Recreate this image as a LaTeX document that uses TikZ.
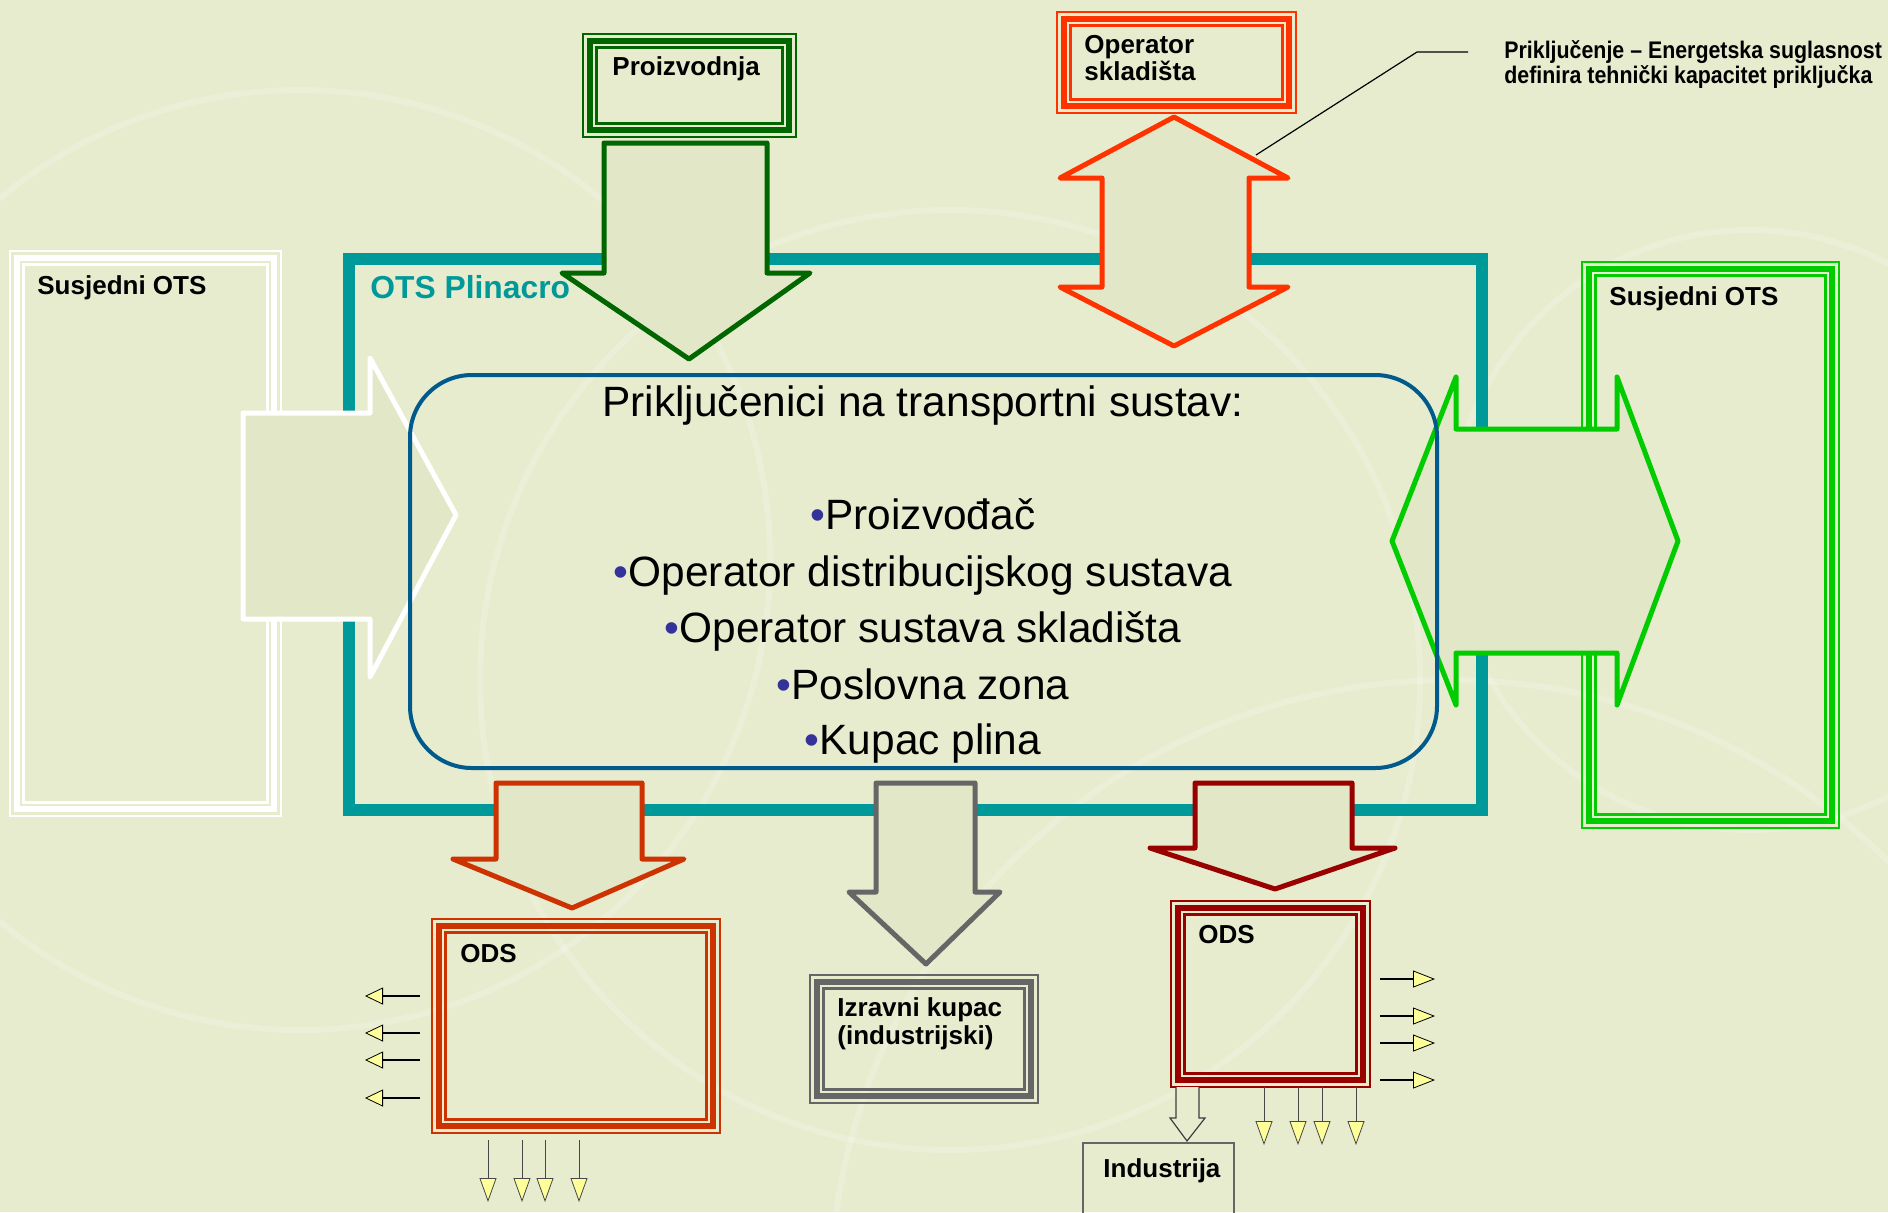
\documentclass[tikz,border=0pt]{standalone}
\usepackage{fontspec}
\setmainfont{Liberation Sans}
\newfontfamily\narrowf[FakeStretch=0.89]{Liberation Sans}
\usetikzlibrary{arrows.meta}
\definecolor{bg}{RGB}{231,236,206}
\definecolor{afill}{RGB}{225,231,199}
\definecolor{teal2}{RGB}{0,153,153}
\definecolor{bluebox}{RGB}{0,90,140}
\definecolor{dgreen}{RGB}{0,102,0}
\definecolor{lgreen}{RGB}{0,204,0}
\definecolor{redor}{RGB}{255,51,0}
\definecolor{orred}{RGB}{204,51,0}
\definecolor{dred}{RGB}{153,0,0}
\definecolor{gry}{RGB}{102,102,102}
\definecolor{yel}{RGB}{255,255,153}
\definecolor{bul}{RGB}{51,51,153}
\newcommand\tribox[6]{%
  \pgfmathsetmacro\bw{(#5-#3)*0.5}%
  \pgfmathsetmacro\bh{(#6-#4)*0.5}%
  \node[draw=#2, line width=1.25pt, inner sep=0pt, outer sep=0pt,
        minimum width=\bw pt, minimum height=\bh pt, anchor=north west] (#1) at (#3,#4) {};
  \draw[#2, line width=3.25pt] ([shift={(3.5pt,-3.5pt)}]#1.north west) rectangle ([shift={(-3.5pt,3.5pt)}]#1.south east);
  \draw[#2, line width=1.25pt] ([shift={(6.7pt,-6.7pt)}]#1.north west) rectangle ([shift={(-6.7pt,6.7pt)}]#1.south east);
}
\tikzset{
  lbl/.style={font=\fontsize{13}{15.6}\selectfont\bfseries, anchor=base west, inner sep=0pt},
  maintxt/.style={font=\fontsize{21.2}{25}\selectfont, anchor=base, inner sep=0pt},
  blockarrow/.style={line width=2.5pt, fill=afill, line join=round},
  smallh/.style={line width=1.1pt, -{Triangle[length=9pt,width=8.5pt,fill=yel,line width=0.4pt]}},
  smallv/.style={line width=0.5pt, draw=gry!70!black, -{Triangle[length=12pt,width=8.5pt,fill=yel,line width=0.4pt]}},
  deco/.style={draw=white, opacity=0.2, line width=3pt}
}
\begin{document}
\begin{tikzpicture}[x=0.5pt, y=-0.5pt]
\useasboundingbox[fill=bg] (0,0) rectangle (1888,1212);
% decorative background arcs
\draw[deco] (300,560) circle[radius=470];
\draw[deco] (950,680) circle[radius=470];
\draw[deco] (1750,530) circle[radius=300];
\draw[deco] (1450,1300) circle[radius=620];
% neighbouring systems
\tribox{susL}{white}{10}{251}{281}{816}
\tribox{susR}{lgreen}{1582}{262}{1839}{828}
% OTS Plinacro frame
\node[draw=teal2, line width=6pt, inner sep=0pt, outer sep=0pt, minimum width=566.5pt, minimum height=275.5pt, anchor=north west] (ots) at (349,259) {};
% other boxes
\tribox{proiz}{dgreen}{583}{34}{796}{137}
\tribox{opsk}{redor}{1057}{12}{1296}{113}
\tribox{odsL}{orred}{432}{919}{720}{1133}
\tribox{izr}{gry}{810}{975}{1038}{1103}
\tribox{odsR}{dred}{1171}{901}{1370}{1087}
\node[draw=gry, line width=1.2pt, inner sep=0pt, outer sep=0pt, minimum width=75.5pt, minimum height=45pt, anchor=north west] (ind) at (1083,1143) {};
% block arrows
\draw[blockarrow, draw=dgreen] (604,143) -- (767,143) -- (767,273) -- (810,273) -- (689,359) -- (562,273) -- (604,273) -- cycle;
\draw[blockarrow, draw=redor] (1102,178) -- (1060,178) -- (1174,117) -- (1288,178) -- (1249,178) -- (1249,287) -- (1288,287) -- (1174,346) -- (1060,287) -- (1102,287) -- cycle;
\draw[blockarrow, draw=white] (243,413) -- (370,413) -- (370,358) -- (456,515) -- (370,677) -- (370,619) -- (243,619) -- cycle;
\draw[blockarrow, draw=lgreen] (1392,541) -- (1456,377) -- (1456,429) -- (1617,429) -- (1617,377) -- (1678,541) -- (1617,705) -- (1617,653) -- (1456,653) -- (1456,705) -- cycle;
\draw[blockarrow, draw=orred] (496,783) -- (642,783) -- (642,859) -- (684,859) -- (572,908) -- (453,859) -- (496,859) -- cycle;
\draw[blockarrow, draw=gry] (876,783) -- (975,783) -- (975,892) -- (1000,892) -- (926,964) -- (849,892) -- (876,892) -- cycle;
\draw[blockarrow, draw=dred] (1195,783) -- (1352,783) -- (1352,848) -- (1395,848) -- (1275,889) -- (1150,848) -- (1195,848) -- cycle;
% hollow arrow to Industrija
\draw[draw=gry!60!black, line width=0.6pt, fill=bg] (1176,1087) -- (1176,1118) -- (1170,1118) -- (1187,1141) -- (1205,1118) -- (1199,1118) -- (1199,1087);
% central rounded box
\node[draw=bluebox, line width=2pt, rounded corners=31pt, inner sep=0pt, outer sep=0pt, minimum width=513.5pt, minimum height=196.5pt, anchor=north west] (core) at (410,375) {};
% small arrows
\foreach \yy in {996,1033,1060,1098} \draw[smallh] (420,\yy) -- (365,\yy);
\foreach \xx in {488,522,545,579} \draw[smallv] (\xx,1140) -- (\xx,1202);
\foreach \yy in {979,1016,1043,1080} \draw[smallh, -{Triangle[length=11pt,width=8.5pt,fill=yel,line width=0.4pt]}] (1380,\yy) -- (1435,\yy);
\foreach \xx in {1264,1298,1322,1356} \draw[smallv] (\xx,1087) -- (\xx,1145);
% callout
\coordinate (cl1) at (1256,155);
\coordinate (cl2) at (1417,52);
\node[anchor=base west, inner sep=0pt, font=\narrowf\fontsize{12}{14}\selectfont\bfseries] (cal1) at (1504,58) {Priključenje – Energetska suglasnost};
\node[anchor=base west, inner sep=0pt, font=\narrowf\fontsize{12}{14}\selectfont\bfseries] (cal2) at (1504,83) {definira tehnički kapacitet priključka};
\draw[line width=0.6pt] (cl1) -- (cl2) -- (1468,52);
% labels
\node[lbl] (tsusL) at (37,294) {Susjedni OTS};
\node[lbl] (tsusR) at (1609,305) {Susjedni OTS};
\node[lbl] (tproiz) at (612,75) {Proizvodnja};
\node[lbl] (topsk1) at (1084,53) {Operator};
\node[lbl] (topsk2) at (1084,80) {skladišta};
\node[lbl] (todsL) at (460,962) {ODS};
\node[lbl] (todsR) at (1198,943) {ODS};
\node[lbl] (tizr1) at (837,1016) {Izravni kupac};
\node[lbl] (tizr2) at (837,1044) {(industrijski)};
\node[lbl] (tind) at (1103,1177) {Industrija};
\node[lbl, font=\fontsize{15.9}{18}\selectfont\bfseries, text=teal2] (tots) at (370,298) {OTS Plinacro};
% central text
\node[maintxt] (m0) at (923,416) {Priključenici na transportni sustav:};
\node[maintxt] (m1) at (923,529) {\textcolor{bul}{•}Proizvođač};
\node[maintxt] (m2) at (923,586) {\textcolor{bul}{•}Operator distribucijskog sustava};
\node[maintxt] (m3) at (923,642) {\textcolor{bul}{•}Operator sustava skladišta};
\node[maintxt] (m4) at (923,699) {\textcolor{bul}{•}Poslovna zona};
\node[maintxt] (m5) at (923,754) {\textcolor{bul}{•}Kupac plina};
\end{tikzpicture}
\end{document}
